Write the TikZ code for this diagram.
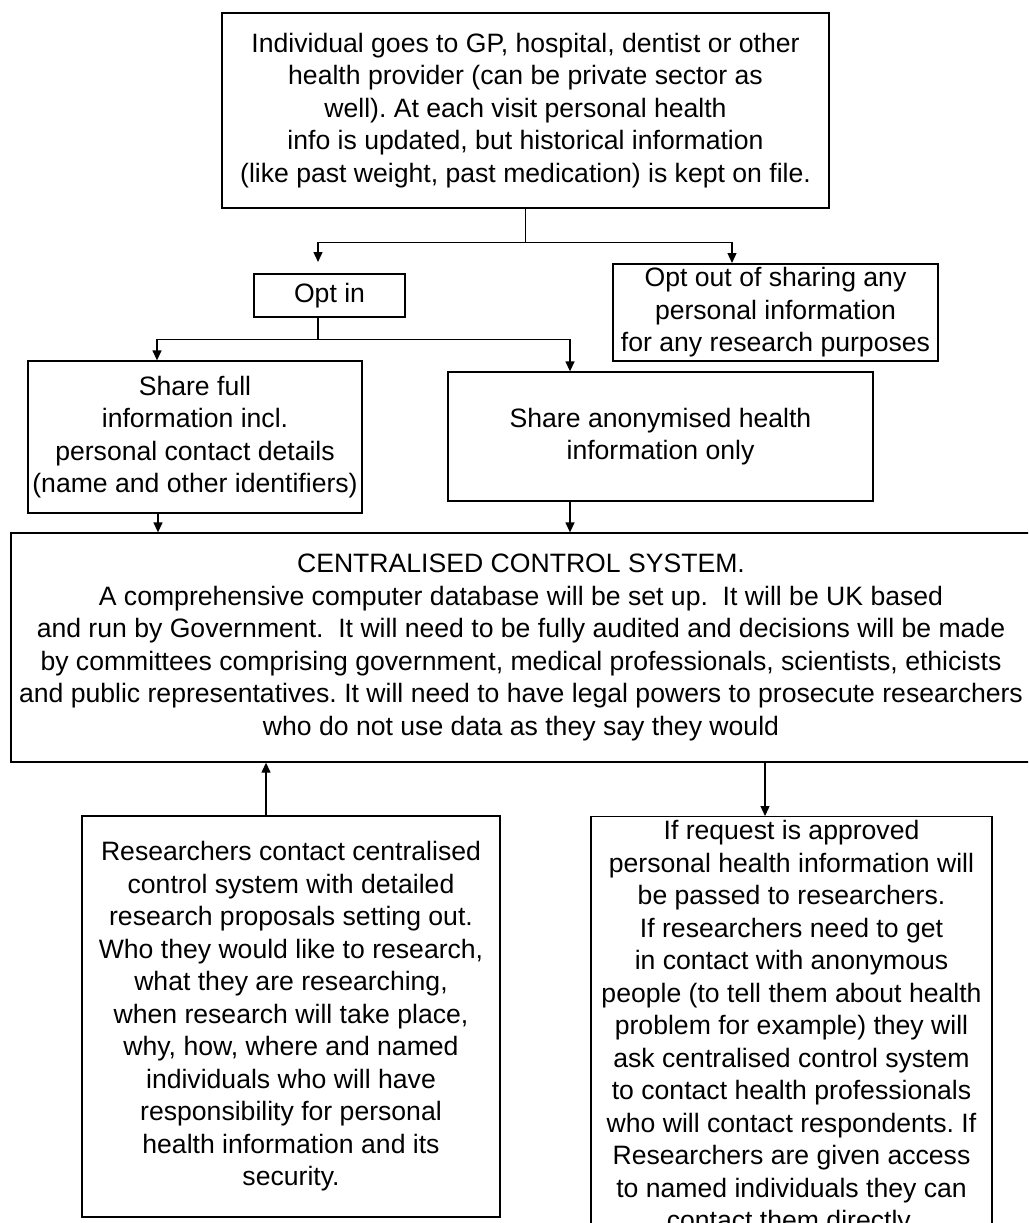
\documentclass[tikz,border=0pt]{standalone}
\usepackage{fontspec}
\setmainfont{Liberation Sans}
\usetikzlibrary{arrows.meta}
\frenchspacing
\tikzset{
  box/.style={draw=black, line width=1.3pt, align=center, inner sep=2pt,
    font=\fontsize{26.6}{32.5}\selectfont, text=black},
  arr/.style={line width=1.3pt, -{Triangle[length=10pt,width=9pt]}},
  ln/.style={line width=1.3pt}
}
\begin{document}
\begin{tikzpicture}[x=1pt,y=-1pt]
\useasboundingbox (0,0) rectangle (1028,1223);
\fill[white] (0,0) rectangle (1028,1223);
\clip (0,0) rectangle (1028,1223);

\node[box, minimum width=607pt, minimum height=195pt] (top) at (525.5,110.5)
  {Individual goes to GP, hospital, dentist or other\\health provider (can be private sector as\\well). At each visit personal health\\info is updated, but historical information\\(like past weight, past medication) is kept on file.};

\node[box, minimum width=151pt, minimum height=43pt] (optin) at (329.5,295.5) {Opt in};

\node[box, minimum width=325pt, minimum height=97pt] (optout) at (775.5,312.5)
  {Opt out of sharing any\\personal information\\for any research purposes};

\node[box, minimum width=334pt, minimum height=152pt] (share) at (195,437)
  {Share full\\information incl.\\personal contact details\\(name and other identifiers)};

\node[box, minimum width=425pt, minimum height=129pt] (anon) at (660.5,436.5)
  {Share anonymised health\\information only};

\node[box, minimum width=1020pt, minimum height=229pt] (central) at (521,647.5)
  {CENTRALISED CONTROL SYSTEM.\\A comprehensive computer database will be set up.\ \ It will be UK based\\and run by Government.\ \ It will need to be fully audited and decisions will be made\\by committees comprising government, medical professionals, scientists, ethicists\\and public representatives. It will need to have legal powers to prosecute researchers\\who do not use data as they say they would};

\node[box, minimum width=418pt, minimum height=401pt] (research) at (291,1016.5)
  {Researchers contact centralised\\control system with detailed\\research proposals setting out.\\Who they would like to research,\\what they are researching,\\when research will take place,\\why, how, where and named\\individuals who will have\\responsibility for personal\\health information and its\\security.};

\node[box, minimum width=401pt, anchor=north, inner ysep=4pt] (approve) at (791.5,816)
  {If request is approved\\personal health information will\\be passed to researchers.\\If researchers need to get\\in contact with anonymous\\people (to tell them about health\\problem for example) they will\\ask centralised control system\\to contact health professionals\\who will contact respondents. If\\Researchers are given access\\to named individuals they can\\contact them directly.};

% connectors
\coordinate (j1) at ([yshift=-34pt]top.south);
\coordinate (c1) at (318,262);
\coordinate (c2) at (732,263);
\draw[arr] (top.south) -- (j1) -| (c1);
\draw[arr] (j1) -| (c2);

\coordinate (o1) at (c1 |- optin.south);
\coordinate (j2) at ([yshift=-22pt]o1);
\coordinate (s1) at ([xshift=-38pt]share.north);
\coordinate (a1) at ([xshift=-90.5pt]anon.north);
\draw[ln] (o1) -- (j2);
\draw[arr] (j2) -| (s1);
\draw[arr] (j2) -| (a1);

\coordinate (d1) at ([xshift=-37pt]share.south);
\coordinate (d2) at ([xshift=-90.5pt]anon.south);
\draw[arr] (d1) -- (d1 |- central.north);
\draw[arr] (d2) -- (d2 |- central.north);

\coordinate (u1) at ([xshift=-25pt]research.north);
\draw[arr] (u1) -- (u1 |- central.south);
\coordinate (r1) at ([xshift=-26.5pt]approve.north);
\draw[arr] (r1 |- central.south) -- (r1);
\end{tikzpicture}
\end{document}
